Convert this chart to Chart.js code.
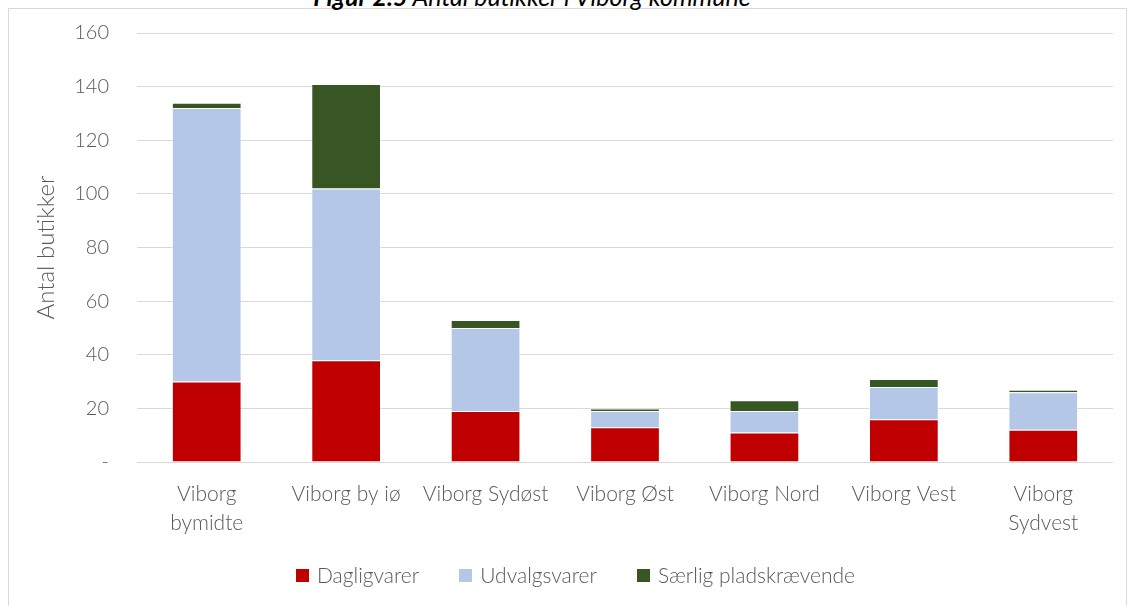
<!DOCTYPE html>
<html>
<head>
<meta charset="utf-8">
<script src="https://cdn.jsdelivr.net/npm/chart.js@4"></script>
<style>
    html, body { margin: 0; padding: 0; background: #fff; overflow: hidden; }
    #wrap { position: relative; width: 1131px; height: 606px; }
    #frame { position: absolute; left: 8px; top: 8px; width: 1119px; height: 620px; border: 1px solid #d9d9d9; box-sizing: border-box; }
    #title { position: absolute; left: 0; width: 1064px; top: -19px; text-align: center; font: italic 25px Lato, sans-serif; color: #000; }
    #title b { font-weight: 700; }
    canvas { position: absolute; left: 0; top: 0; }
    #legend { position: absolute; left: 0; width: 1151px; top: 562px; display: flex; justify-content: center; gap: 40px; font: 300 21px Lato, sans-serif; color: #595959; }
    .legend-item { display: flex; align-items: center; gap: 8px; line-height: 26px; }
    .legend-box { width: 13px; height: 13px; }
</style>
</head>
<body>
<div id="wrap">
    <div id="frame"></div>
    <div id="title"><b>Figur 2.5</b> Antal butikker i Viborg kommune</div>
    <canvas id="chart" width="1131" height="606"></canvas>
    <div id="legend"></div>
</div>
<script>
const categories = [
    ['Viborg', 'bymidte'],
    'Viborg by iø',
    'Viborg Sydøst',
    'Viborg Øst',
    'Viborg Nord',
    'Viborg Vest',
    ['Viborg', 'Sydvest'],
];
const dagligvarer = [30, 38, 19, 13, 11, 16, 12];
const udvalgsvarer = [102, 64, 31, 6, 8, 12, 14];
const saerligPladskraevende = [2, 39, 3, 1, 4, 3, 1];
const yTicks = [0, 20, 40, 60, 80, 100, 120, 140, 160];

const textColor = '#595959';
const fontFamily = 'Lato, sans-serif';

const makeSet = (label, data, color) => ({
    label,
    data,
    backgroundColor: color,
    borderColor: 'rgba(255,255,255,0.5)',
    borderWidth: 1,
    barPercentage: 0.5,
    categoryPercentage: 1,
});

const chart = new Chart(document.getElementById('chart'), {
    type: 'bar',
    data: {
        labels: categories,
        datasets: [
            makeSet('Dagligvarer', dagligvarer, '#c00000'),
            makeSet('Udvalgsvarer', udvalgsvarer, '#b4c7e7'),
            makeSet('Særlig pladskrævende', saerligPladskraevende, '#375623'),
        ],
    },
    options: {
        responsive: false,
        animation: false,
        layout: { padding: { left: 32, right: 18, top: 33, bottom: 58 } },
        plugins: {
            tooltip: { enabled: false },
            legend: { display: false },
        },
        scales: {
            x: {
                stacked: true,
                grid: { display: false },
                border: { display: false },
                ticks: {
                    color: textColor,
                    padding: 10,
                    maxRotation: 0,
                    autoSkip: false,
                    font: { family: fontFamily, size: 21, weight: 300, lineHeight: 1.38 },
                },
            },
            y: {
                stacked: true,
                min: 0,
                max: 160,
                afterBuildTicks: (axis) => {
                    axis.ticks = yTicks.map((value) => ({ value }));
                },
                afterFit: (axis) => {
                    // fast bredde, og tick-padding skal ikke skubbe plotområdet ned
                    axis.width = 105;
                    axis.paddingTop = 0;
                    axis.paddingBottom = 0;
                },
                grid: { color: '#d9d9d9', lineWidth: 1, drawTicks: false },
                border: { display: false },
                title: {
                    display: true,
                    text: 'Antal butikker',
                    color: textColor,
                    padding: { top: 0, bottom: 6 },
                    font: { family: fontFamily, size: 24, weight: 300 },
                },
                ticks: {
                    color: textColor,
                    padding: 28,
                    font: { family: fontFamily, size: 20, weight: 300 },
                    callback: (value) => (value === 0 ? '-' : value),
                },
            },
        },
    },
});

// Legend som HTML, bygget ud fra datasættene
const legend = document.getElementById('legend');
chart.data.datasets.forEach((ds) => {
    const item = document.createElement('div');
    item.className = 'legend-item';
    const box = document.createElement('span');
    box.className = 'legend-box';
    box.style.background = ds.backgroundColor;
    const text = document.createElement('span');
    text.textContent = ds.label;
    item.append(box, text);
    legend.appendChild(item);
});
</script>
</body>
</html>
